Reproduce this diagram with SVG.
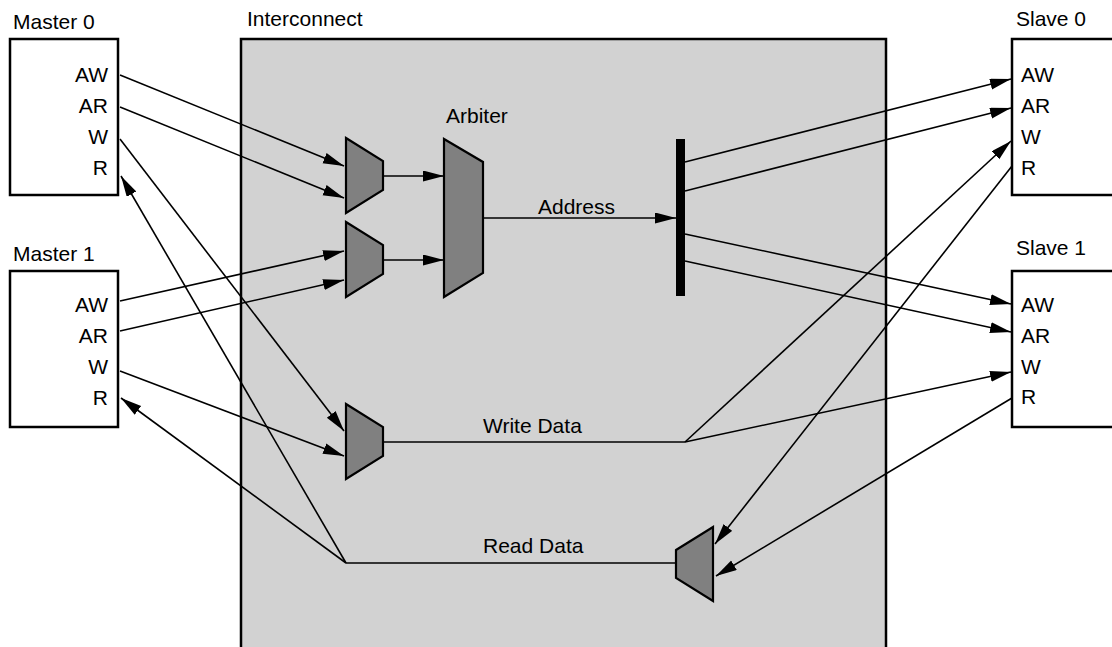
<svg xmlns="http://www.w3.org/2000/svg" width="1112" height="647" viewBox="0 0 1112 647">
<style>
text{font-family:"Liberation Sans",Arial,sans-serif;font-size:21px;fill:#000}
.box{fill:#fff;stroke:#000;stroke-width:2.5}
.ic{fill:#d2d2d2;stroke:#000;stroke-width:2.5}
.mux{fill:#808080;stroke:#000;stroke-width:2.2;stroke-linejoin:miter}
.c{fill:none;stroke:#000;stroke-width:1.6}
.a{marker-end:url(#ah)}
.r{text-anchor:end}
</style>
<defs>
<marker id="ah" markerUnits="userSpaceOnUse" markerWidth="21" markerHeight="12" refX="21" refY="5.5" orient="auto">
<path d="M0,0 L21,5.5 L0,11 z" fill="#000"/>
</marker>
</defs>
<g id="interconnect">
<rect class="ic" x="241" y="39" width="645" height="640"/>
<text x="247" y="26">Interconnect</text>
</g>
<g id="master0">
<rect class="box" x="10" y="39" width="108" height="156"/>
<text x="13" y="29">Master 0</text>
<text class="r" x="108" y="82">AW</text>
<text class="r" x="108" y="113">AR</text>
<text class="r" x="108" y="144">W</text>
<text class="r" x="108" y="175">R</text>
</g>
<g id="master1">
<rect class="box" x="10" y="271" width="108" height="156"/>
<text x="13" y="261">Master 1</text>
<text class="r" x="108" y="312">AW</text>
<text class="r" x="108" y="343">AR</text>
<text class="r" x="108" y="374">W</text>
<text class="r" x="108" y="405">R</text>
</g>
<g id="slave0">
<rect class="box" x="1012" y="39" width="110" height="156"/>
<text x="1016" y="26">Slave 0</text>
<text x="1021" y="82">AW</text>
<text x="1021" y="113">AR</text>
<text x="1021" y="144">W</text>
<text x="1021" y="175">R</text>
</g>
<g id="slave1">
<rect class="box" x="1012" y="271" width="110" height="156"/>
<text x="1016" y="255">Slave 1</text>
<text x="1021" y="312">AW</text>
<text x="1021" y="343">AR</text>
<text x="1021" y="374">W</text>
<text x="1021" y="404">R</text>
</g>
<g id="mux-addr0">
<polygon class="mux" points="346,138 383,161 383,190 346,213"/>
</g>
<g id="mux-addr1">
<polygon class="mux" points="346,222 383,245 383,274 346,297"/>
</g>
<g id="arbiter">
<polygon class="mux" points="444,139 483,162 483,273 444,297"/>
<text x="446" y="123">Arbiter</text>
</g>
<g id="addr-demux">
<rect x="676" y="139" width="9" height="157" fill="#000"/>
</g>
<g id="mux-write">
<polygon class="mux" points="346,404 383,427 383,456 346,479"/>
</g>
<g id="mux-read">
<polygon class="mux" points="676,550 713,527 713,601 676,578"/>
</g>
<g id="connectors">
<line class="c a" x1="120" y1="75" x2="344" y2="166"/>
<line class="c a" x1="120" y1="107" x2="344" y2="198"/>
<line class="c a" x1="120" y1="139" x2="344" y2="431"/>
<line class="c a" x1="346" y1="563" x2="121" y2="176"/>
<line class="c a" x1="120" y1="301" x2="344" y2="251"/>
<line class="c a" x1="120" y1="331" x2="344" y2="280"/>
<line class="c a" x1="120" y1="371" x2="344" y2="456"/>
<line class="c a" x1="346" y1="563" x2="121" y2="398"/>
<line class="c a" x1="383" y1="176" x2="444" y2="176"/>
<line class="c a" x1="383" y1="260" x2="444" y2="260"/>
<line class="c a" x1="483" y1="218" x2="676" y2="218"/>
<text x="538" y="214">Address</text>
<line class="c a" x1="685" y1="162" x2="1011" y2="79"/>
<line class="c a" x1="685" y1="191" x2="1011" y2="108"/>
<line class="c a" x1="685" y1="234" x2="1011" y2="304"/>
<line class="c a" x1="685" y1="261" x2="1011" y2="332"/>
<line class="c" x1="383" y1="442" x2="685" y2="442"/>
<text x="483" y="433">Write Data</text>
<line class="c a" x1="685" y1="442" x2="1011" y2="141"/>
<line class="c a" x1="685" y1="442" x2="1011" y2="372"/>
<line class="c" x1="346" y1="563" x2="676" y2="563"/>
<text x="483" y="553">Read Data</text>
<line class="c a" x1="1012" y1="166" x2="715" y2="544"/>
<line class="c a" x1="1012" y1="398" x2="716" y2="576"/>
</g>
</svg>
